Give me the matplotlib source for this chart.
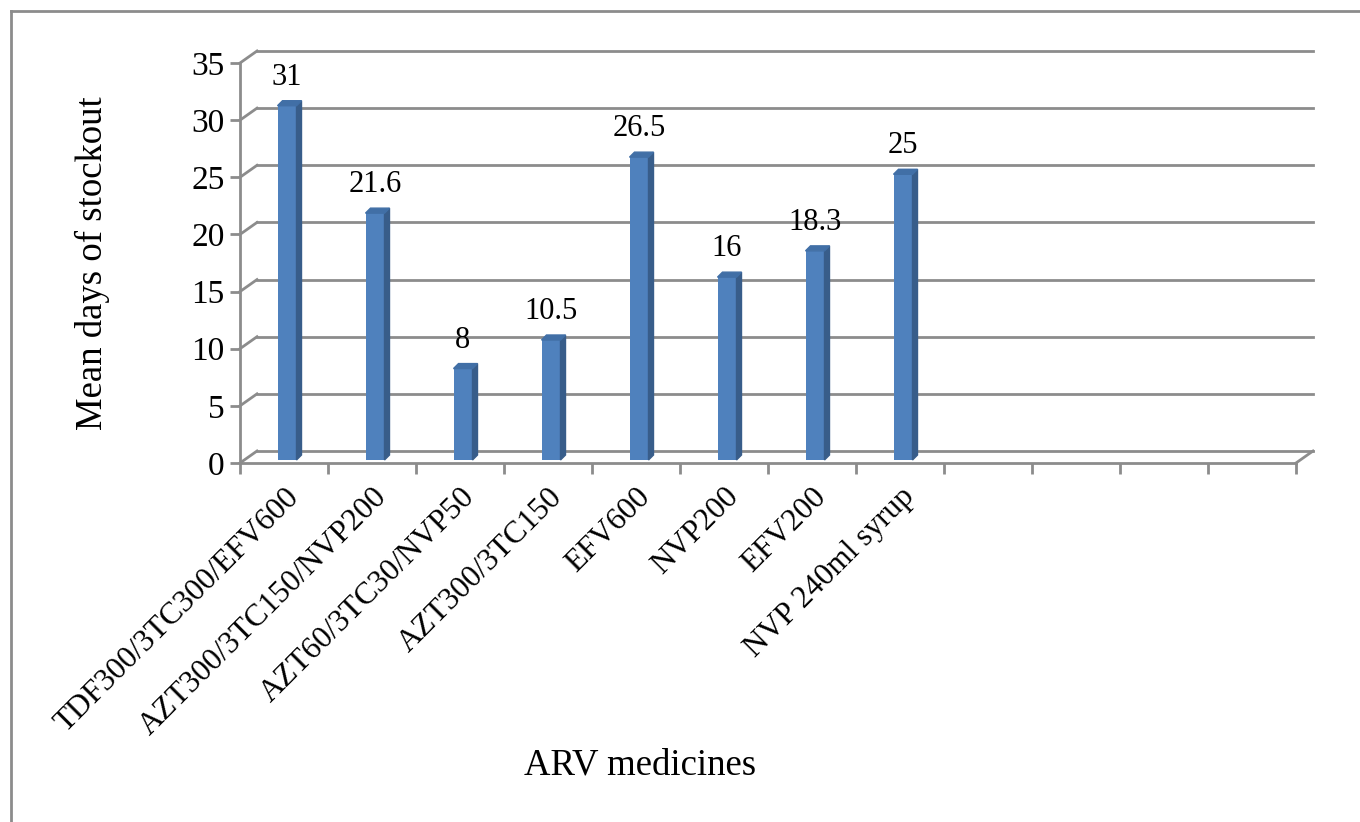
import matplotlib.pyplot as plt
import matplotlib.lines as mlines
from matplotlib.patches import Polygon
import numpy as np

# Data
medicines = ['TDF300/3TC300/EFV600', 'AZT300/3TC150/NVP200', 'AZT60/3TC30/NVP50',
             'AZT300/3TC150', 'EFV600', 'NVP200', 'EFV200', 'NVP 240ml syrup']
stockout_days = [31, 21.6, 8, 10.5, 26.5, 16, 18.3, 25]
value_labels = ['31', '21.6', '8', '10.5', '26.5', '16', '18.3', '25']
n_slots = 12  # the category axis has 12 slots, only 8 used
y_ticks = [0, 5, 10, 15, 20, 25, 30, 35]

plt.rcParams['font.family'] = ['Liberation Serif', 'DejaVu Serif']

fig = plt.figure(figsize=(13.6, 8.22), dpi=100)
ax = fig.add_axes([240 / 1360, 359 / 822, 1056 / 1360, 400 / 822])
ax.set_xlim(0, n_slots)
ax.set_ylim(0, 35)

# pixel -> data conversion for the fake 3D offsets
px_x = n_slots / 1056
px_y = 35 / 400
wall_dx, wall_dy = 17 * px_x, 12 * px_y
grid_col = '#8c8c8c'

# back wall gridlines and left wall diagonals
for v in y_ticks:
    ax.plot([wall_dx, n_slots + wall_dx], [v + wall_dy, v + wall_dy],
            color=grid_col, lw=2, clip_on=False, zorder=1)
    ax.plot([0, wall_dx], [v, v + wall_dy], color=grid_col, lw=2,
            clip_on=False, zorder=1)
# right edge of the floor
ax.plot([n_slots, n_slots + wall_dx], [0, wall_dy], color=grid_col, lw=2,
        clip_on=False, zorder=1)

# columns
x = np.arange(len(stockout_days)) + 0.5
bar_w = 19 * px_x
off_x, off_y = 3 * px_x, 3 * px_y
dep_x, dep_y = 5 * px_x, 5 * px_y
ax.bar(x + off_x, stockout_days, width=bar_w, bottom=off_y, color='#4f81bd',
       edgecolor='none', zorder=3)
for xi, v in zip(x, stockout_days):
    l = xi + off_x - bar_w / 2
    r = xi + off_x + bar_w / 2
    top = v + off_y
    side = Polygon([(r, off_y), (r + dep_x, off_y + dep_y), (r + dep_x, top + dep_y), (r, top)],
                   closed=True, color='#385d8a', zorder=3)
    lid = Polygon([(l, top), (l + dep_x, top + dep_y), (r + dep_x, top + dep_y), (r, top)],
                  closed=True, color='#416fa6', zorder=3)
    ax.add_patch(side)
    ax.add_patch(lid)

for xi, v, lab in zip(x, stockout_days, value_labels):
    ax.annotate(lab, (xi + off_x, v + off_y), xytext=(0, 14), textcoords='offset pixels',
                ha='center', va='bottom', fontsize=22, color='black')

# axes styling
for s in ['top', 'right']:
    ax.spines[s].set_visible(False)
for s in ['left', 'bottom']:
    ax.spines[s].set_color(grid_col)
    ax.spines[s].set_linewidth(2)

ax.set_yticks(y_ticks)
ax.tick_params(axis='y', length=7, width=2, color=grid_col, labelsize=24, pad=4)
ax.set_xticks(np.arange(n_slots + 1))
ax.set_xticklabels([])
ax.tick_params(axis='x', which='major', length=8, width=2, color=grid_col, direction='out')
ax.set_xticks(x, minor=True)
ax.set_xticklabels(medicines, minor=True, rotation=45, ha='right',
                   rotation_mode='anchor', fontsize=22.5)
ax.tick_params(axis='x', which='minor', length=0, pad=14)

ax.set_ylabel('Mean days of stockout', fontsize=26.5)
ax.yaxis.set_label_coords(-0.123, 0.5)
fig.text(640 / 1360, 1 - 765 / 822, 'ARV medicines', fontsize=26.5, ha='center', va='center')

# outer chart border (top and left only visible)
fig.add_artist(mlines.Line2D([11 / 1360, 1], [1 - 11 / 822, 1 - 11 / 822],
                             color='#8c8c8c', lw=2, transform=fig.transFigure))
fig.add_artist(mlines.Line2D([11 / 1360, 11 / 1360], [0, 1 - 11 / 822],
                             color='#8c8c8c', lw=2, transform=fig.transFigure))

fig.savefig('out.png', dpi=100)
